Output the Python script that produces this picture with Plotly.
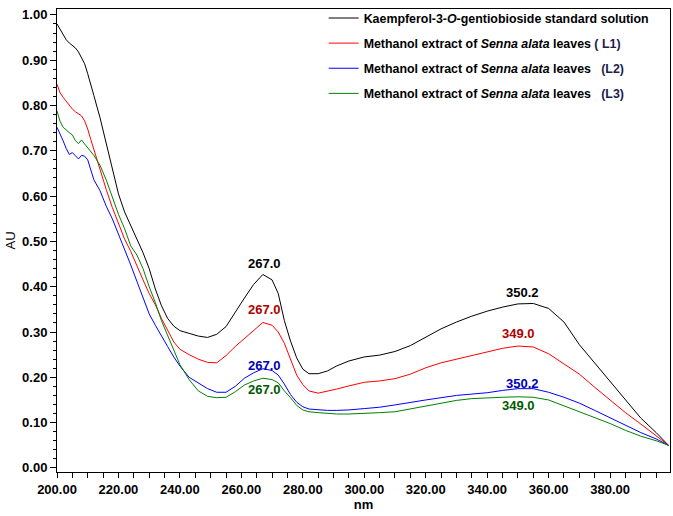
import numpy as np
import plotly.graph_objects as go

wavelength = [200, 201, 202, 203, 204, 205, 206, 207, 208, 209, 210, 211, 212,
              214, 216, 218, 220, 222, 224, 226, 228, 230, 232, 234, 236, 238, 240,
              243, 246, 249, 252, 255, 258, 261, 264, 267,
              270, 272, 274, 276, 278, 280, 282, 285, 288, 291, 295,
              300, 305, 310, 315, 320, 325, 330, 335, 340, 345, 350, 355, 360,
              365, 370, 375, 380, 385, 390, 395, 399]

standard = [0.980, 0.968, 0.956, 0.945, 0.938, 0.932, 0.927, 0.918, 0.906, 0.892, 0.870, 0.848, 0.822,
            0.773, 0.715, 0.660, 0.605, 0.565, 0.535, 0.505, 0.475, 0.440, 0.395, 0.358, 0.330, 0.313, 0.303,
            0.297, 0.291, 0.288, 0.295, 0.312, 0.345, 0.375, 0.405, 0.427,
            0.415, 0.385, 0.325, 0.280, 0.243, 0.218, 0.208, 0.208, 0.214, 0.225, 0.236,
            0.245, 0.249, 0.257, 0.270, 0.288, 0.307, 0.322, 0.335, 0.346, 0.355, 0.362, 0.363, 0.352,
            0.322, 0.272, 0.232, 0.190, 0.150, 0.110, 0.078, 0.050]

extract_l1 = [0.847, 0.828, 0.818, 0.809, 0.800, 0.792, 0.786, 0.781, 0.777, 0.766, 0.748, 0.725, 0.703,
              0.656, 0.615, 0.575, 0.540, 0.505, 0.478, 0.445, 0.415, 0.385, 0.360, 0.330, 0.303, 0.278, 0.262,
              0.250, 0.240, 0.233, 0.232, 0.248, 0.268, 0.285, 0.303, 0.321,
              0.315, 0.300, 0.275, 0.240, 0.205, 0.184, 0.170, 0.165, 0.169, 0.174, 0.181,
              0.189, 0.192, 0.197, 0.207, 0.221, 0.232, 0.240, 0.248, 0.257, 0.264, 0.269, 0.267, 0.252,
              0.230, 0.207, 0.178, 0.150, 0.122, 0.097, 0.072, 0.050]

extract_l2 = [0.752, 0.738, 0.722, 0.705, 0.692, 0.696, 0.688, 0.682, 0.690, 0.688, 0.680, 0.660, 0.636,
              0.612, 0.578, 0.550, 0.517, 0.482, 0.448, 0.412, 0.376, 0.340, 0.315, 0.293, 0.268, 0.245, 0.225,
              0.200, 0.188, 0.175, 0.167, 0.167, 0.180, 0.198, 0.210, 0.219,
              0.215, 0.205, 0.185, 0.162, 0.145, 0.135, 0.130, 0.128, 0.127, 0.127, 0.128,
              0.131, 0.134, 0.139, 0.145, 0.150, 0.155, 0.160, 0.163, 0.166, 0.171, 0.175, 0.175, 0.167,
              0.156, 0.143, 0.127, 0.111, 0.094, 0.078, 0.064, 0.050]

extract_l3 = [0.788, 0.765, 0.752, 0.745, 0.740, 0.735, 0.722, 0.716, 0.724, 0.715, 0.706, 0.698, 0.690,
              0.668, 0.636, 0.598, 0.560, 0.528, 0.490, 0.470, 0.440, 0.400, 0.365, 0.325, 0.292, 0.258, 0.228,
              0.195, 0.170, 0.158, 0.155, 0.156, 0.168, 0.183, 0.192, 0.198,
              0.195, 0.188, 0.170, 0.155, 0.138, 0.128, 0.124, 0.122, 0.120, 0.119, 0.119,
              0.120, 0.122, 0.124, 0.130, 0.137, 0.143, 0.149, 0.153, 0.155, 0.156, 0.157, 0.156, 0.150,
              0.137, 0.124, 0.112, 0.098, 0.083, 0.070, 0.060, 0.050]

series_names = [
    "Kaempferol-3-<i>O</i>-gentiobioside standard solution",
    "Methanol extract of <i>Senna alata</i> leaves <span style='color:#1c1c4a'>( L1)</span>",
    "Methanol extract of <i>Senna alata</i> leaves   <span style='color:#1c1c4a'>(L2)</span>",
    "Methanol extract of <i>Senna alata</i> leaves   <span style='color:#1c1c4a'>(L3)</span>",
]
series_values = [standard, extract_l1, extract_l2, extract_l3]
line_colors = ["#000000", "#ff0000", "#0000ff", "#008000"]
label_colors = ["#000000", "#b00000", "#0000b0", "#005a00"]
peak1_labels = ["267.0", "267.0", "267.0", "267.0"]
peak2_labels = ["350.2", "349.0", "350.2", "349.0"]
peak1_shift = [11, 13, 3, -11]
peak2_shift = [11, 13, 5, -9]

fig = go.Figure()
for i, (name, vals, col) in enumerate(zip(series_names, series_values, line_colors)):
    fig.add_trace(go.Scatter(x=wavelength, y=vals, mode="lines", name=name,
                             legendgroup=f"g{i}",
                             line=dict(color=col, width=1)))

label_font = dict(family="Liberation Sans, Arial, sans-serif", size=13, weight="bold")
for i, vals in enumerate(series_values):
    for lab, ys, xs in ((peak1_labels[i], peak1_shift[i], 2), (peak2_labels[i], peak2_shift[i], 4)):
        xv = float(lab)
        yv = float(np.interp(xv, wavelength, vals))
        fig.add_annotation(x=xv, y=yv, xref="x", yref="y", text=lab,
                           showarrow=False, yshift=ys, xshift=xs,
                           font=dict(color=label_colors[i], **label_font))

axis_font = dict(family="Liberation Sans, Arial, sans-serif", size=13, color="#000000")
fig.update_layout(
    width=673, height=516,
    margin=dict(l=57, r=3, t=7, b=44),
    paper_bgcolor="white", plot_bgcolor="white",
    showlegend=True,
    legend=dict(x=0.435, y=1.012, xanchor="left", yanchor="top",
                bgcolor="rgba(0,0,0,0)", borderwidth=0, tracegroupgap=6,
                font=dict(family="Liberation Sans, Arial, sans-serif", size=12.4,
                          color="#000000", weight="bold"),
                itemwidth=30),
    xaxis=dict(range=[200, 399.5], tickmode="linear", tick0=200, dtick=20,
               tickformat=".2f", ticks="outside", ticklen=5, tickwidth=1, tickcolor="black",
               minor=dict(dtick=5, tick0=200, ticks="outside", ticklen=5, tickcolor="black"),
               showline=True, linecolor="black", linewidth=1, mirror=True,
               showgrid=False, zeroline=False, automargin=False,
               tickfont=dict(**axis_font, weight="bold"),
               title=dict(text="nm", font=dict(**axis_font, weight="bold"), standoff=4)),
    yaxis=dict(range=[-0.009, 1.013], tickmode="linear", tick0=0, dtick=0.1,
               tickformat=".2f", ticks="outside", ticklen=6, tickwidth=1, tickcolor="black",
               minor=dict(dtick=0.02, tick0=0, ticks="outside", ticklen=3, tickcolor="black"),
               showline=True, linecolor="black", linewidth=1, mirror=True,
               showgrid=False, zeroline=False, automargin=False,
               tickfont=dict(**axis_font, weight="bold"),
               title=dict(text="AU", font=axis_font, standoff=3)),
)
fig.write_html("out.html", config={"displayModeBar": False},
               post_script="document.body.style.margin='0';")
